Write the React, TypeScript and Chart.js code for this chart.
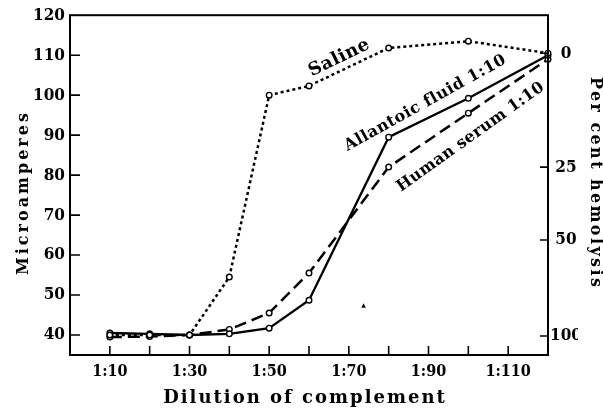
import React, { useEffect, useRef } from "react";
import { Chart, registerables } from "chart.js";

Chart.register(...registerables);

// Dilution of complement (1:x)
const dilutions = [10, 20, 30, 40, 50, 60, 80, 100, 120];
// Microamperes
const saline = [40, 40, 40, 54.5, 100, 102.3, 111.8, 113.5, 110.5];
const allantoicFluid = [40.5, 40.3, 40, 40.3, 41.7, 48.7, 89.5, 99.2, 110];
const humanSerum = [39.5, 39.6, 40, 41.4, 45.5, 55.5, 82, 95.5, 109];

// Axis ticks
const microampereTicks = [40, 50, 60, 70, 80, 90, 100, 110, 120];
const dilutionTicks = [10, 20, 30, 40, 50, 60, 70, 80, 90, 100, 110];
const dilutionLabelled = [10, 30, 50, 70, 90, 110];
const hemolysisLabels = ["0", "25", "50", "100"];
const hemolysisAtMicroamperes = [110.5, 82, 63.75, 39.75];

const FONT = '"DejaVu Serif", serif';
const FONT_COND = '"DejaVu Serif Condensed", "DejaVu Serif", serif';

const pts = (ys: number[]) => dilutions.map((x, i) => ({ x, y: ys[i] }));

const decorPlugin = {
  id: "decor",
  afterDatasetsDraw(chart: any) {
    const { ctx, chartArea: a, scales } = chart;
    const xs = scales.x;
    const ys = scales.y;
    const yr = scales.y1;
    ctx.save();
    ctx.strokeStyle = "#000";
    ctx.lineWidth = 2;
    ctx.strokeRect(a.left, a.top, a.right - a.left, a.bottom - a.top);
    ctx.lineWidth = 1.6;
    ctx.beginPath();
    dilutionTicks.forEach((v) => {
      const px = xs.getPixelForValue(v);
      ctx.moveTo(px, a.bottom);
      ctx.lineTo(px, a.bottom - 9);
    });
    microampereTicks
      .filter((v) => v < 120)
      .forEach((v) => {
        const py = ys.getPixelForValue(v);
        ctx.moveTo(a.left, py);
        ctx.lineTo(a.left + 10, py);
      });
    hemolysisAtMicroamperes.forEach((v) => {
      const py = yr.getPixelForValue(v);
      ctx.moveTo(a.right, py);
      ctx.lineTo(a.right - 8, py);
    });
    ctx.stroke();

    ctx.fillStyle = "#000";
    ctx.textAlign = "center";
    ctx.textBaseline = "middle";
    const label = (text: string, x: number, y: number, rot: number, size: number, sp = 0) => {
      ctx.save();
      ctx.translate(xs.getPixelForValue(x), ys.getPixelForValue(y));
      ctx.rotate((rot * Math.PI) / 180);
      ctx.font = `bold ${size}px ${FONT}`;
      (ctx as any).letterSpacing = `${sp}px`;
      ctx.fillText(text, 0, 0);
      ctx.restore();
    };
    label("Saline", 67.6, 109.3, -26, 18, 0.5);
    label("Allantoic fluid 1:10", 89.2, 98, -29, 16, 0.5);
    label("Human serum 1:10", 100.6, 89.5, -35.5, 16, 0.3);
    label("▲", 73.7, 47.3, 0, 6);

    // axis titles
    const title = (text: string, x: number, y: number, rot: number, size: number, sp: number) => {
      ctx.save();
      ctx.translate(x, y);
      ctx.rotate((rot * Math.PI) / 180);
      ctx.font = `bold ${size}px ${FONT}`;
      (ctx as any).letterSpacing = `${sp}px`;
      ctx.fillText(text, sp / 2, 0);
      ctx.restore();
    };
    title("Microamperes", 24, 194, -90, 16, 3);
    title("Per cent hemolysis", 595, 182, 90, 16, 2.4);
    title("Dilution of complement", 304, 398, 0, 18, 2);
    ctx.restore();
  },
};

export default function App() {
  const ref = useRef<HTMLCanvasElement>(null);
  useEffect(() => {
    document.body.style.margin = "0";
    const common = {
      borderColor: "#000",
      pointRadius: 2.8,
      pointBackgroundColor: "#fff",
      pointBorderColor: "#000",
      pointBorderWidth: 1.4,
      tension: 0,
      clip: 6,
    };
    const tickFont = { family: FONT_COND, weight: "bold", size: 17 };
    const chart = new Chart(ref.current!, {
      type: "line",
      data: {
        datasets: [
          { ...common, label: "Saline", data: pts(saline), borderWidth: 2.5, borderDash: [3, 3] },
          { ...common, label: "Allantoic fluid 1:10", data: pts(allantoicFluid), borderWidth: 2.3 },
          { ...common, label: "Human serum 1:10", data: pts(humanSerum), borderWidth: 2.5, borderDash: [12, 6] },
        ],
      },
      plugins: [decorPlugin],
      options: {
        responsive: false,
        animation: false,
        layout: { padding: { top: 15, right: 25, left: 0, bottom: 0 } },
        plugins: { legend: { display: false }, tooltip: { enabled: false } },
        scales: {
          x: {
            type: "linear",
            min: 0,
            max: 120,
            grid: { display: false, drawTicks: false },
            border: { display: false },
            afterFit: (s: any) => {
              s.height = 59;
            },
            afterBuildTicks: (s: any) => {
              s.ticks = dilutionLabelled.map((v) => ({ value: v }));
            },
            ticks: {
              color: "#000",
              padding: 7,
              maxRotation: 0,
              autoSkip: false,
              font: { family: FONT_COND, weight: "bold", size: 16 },
              callback: (v: any) => "1:" + v,
            },
          },
          y: {
            type: "linear",
            position: "left",
            min: 35,
            max: 120,
            grid: { display: false, drawTicks: false },
            border: { display: false },
            afterFit: (s: any) => {
              s.width = 70;
            },
            afterBuildTicks: (s: any) => {
              s.ticks = microampereTicks.map((v) => ({ value: v }));
            },
            ticks: {
              color: "#000",
              padding: 5,
              autoSkip: false,
              font: tickFont,
            },
          },
          y1: {
            type: "linear",
            position: "right",
            min: 35,
            max: 120,
            grid: { display: false, drawTicks: false },
            border: { display: false },
            afterFit: (s: any) => {
              s.width = 30;
            },
            afterBuildTicks: (s: any) => {
              s.ticks = hemolysisAtMicroamperes.map((v) => ({ value: v }));
            },
            ticks: {
              color: "#000",
              padding: 2,
              autoSkip: false,
              crossAlign: "center",
              font: tickFont,
              callback: (_v: any, i: number) => hemolysisLabels[i],
            },
          },
        },
      },
    } as any);
    return () => chart.destroy();
  }, []);
  return (
    <div style={{ width: 603, height: 414 }}>
      <canvas ref={ref} width={603} height={414} style={{ display: "block" }} />
    </div>
  );
}
